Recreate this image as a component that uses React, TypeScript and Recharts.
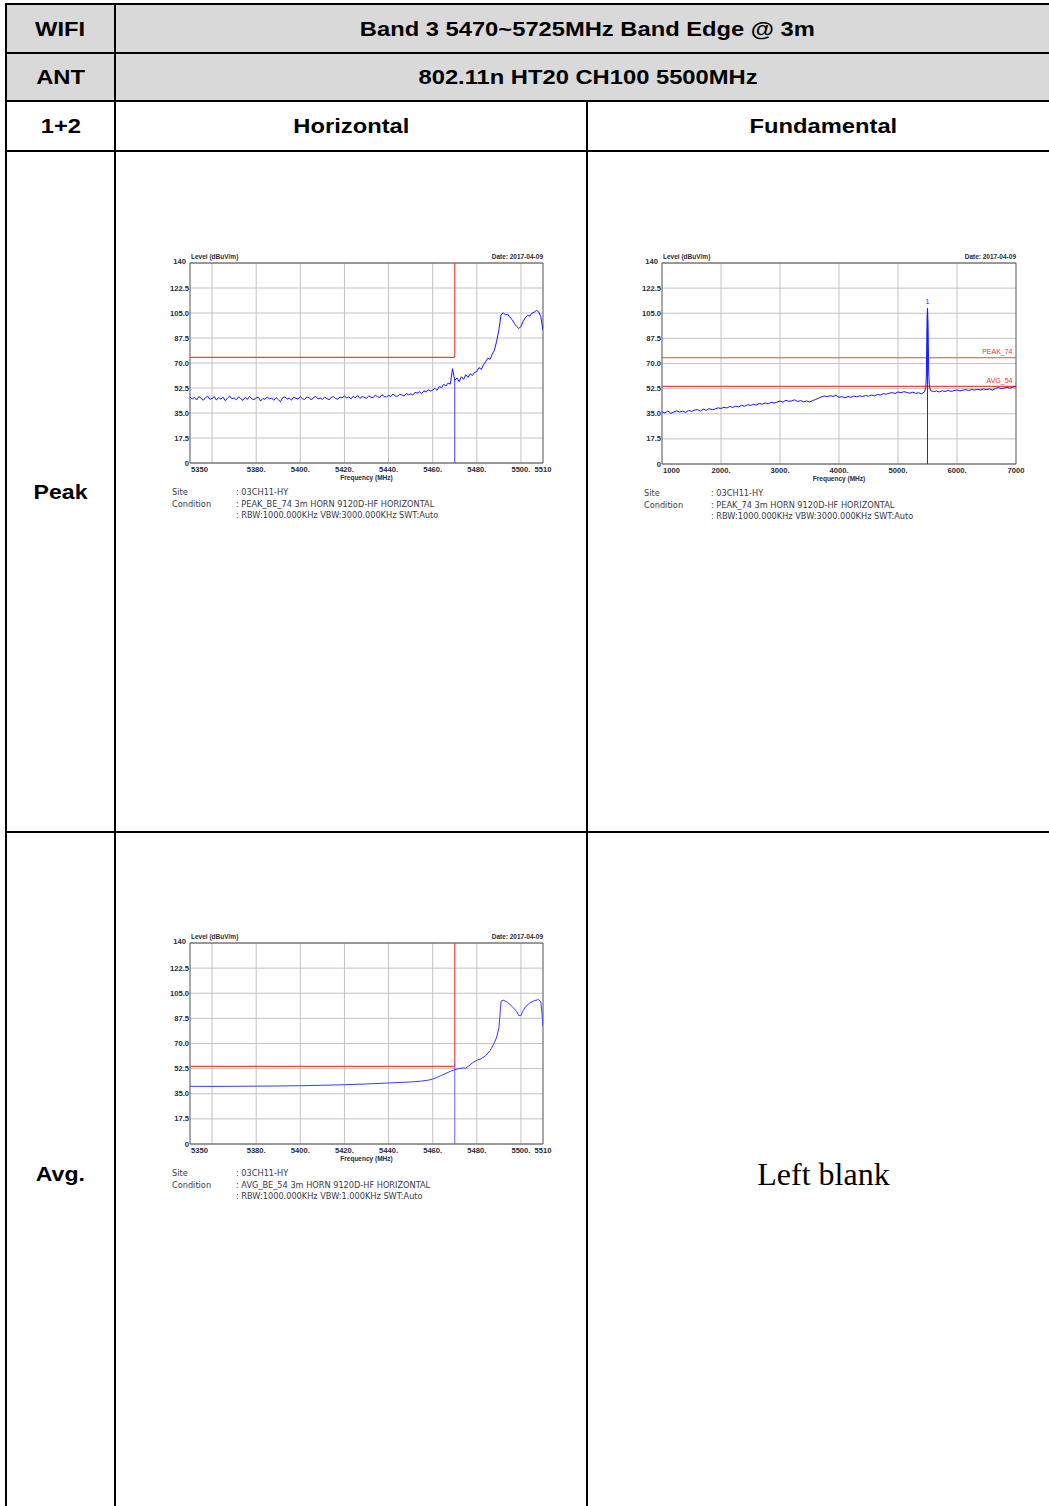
import React from "react";
import {
  LineChart,
  Line,
  XAxis,
  YAxis,
  CartesianGrid,
  ReferenceLine,
  ReferenceArea,
  ReferenceDot,
} from "recharts";

// ---- shared axis setup ----
const Y_TICKS = [0, 17.5, 35, 52.5, 70, 87.5, 105, 122.5, 140];
const Y_LABELS = ["0", "17.5", "35.0", "52.5", "70.0", "87.5", "105.0", "122.5", "140"];

// ---- band edge charts (5350 - 5510 MHz) ----
const EDGE_TICKS = [5350, 5380, 5400, 5420, 5440, 5460, 5480, 5500, 5510];
const EDGE_LABELS = ["5350", "5380.", "5400.", "5420.", "5440.", "5460.", "5480.", "5500.", "5510"];
const EDGE_GRID = [5360, 5380, 5400, 5420, 5440, 5460, 5480, 5500];

// peak trace, one sample per MHz from 5350
const PEAK_LEVEL = [
  46.2, 44.8, 45.9, 44.1, 46.5, 45.3, 43.9, 45.7, 46.8, 44.6,
  45.2, 46.4, 44.0, 45.8, 44.7, 46.1, 43.6, 45.4, 46.9, 44.9,
  45.6, 44.2, 46.3, 45.0, 43.8, 45.9, 44.5, 46.6, 45.1, 44.3,
  45.7, 46.0, 43.4, 45.2, 44.6, 46.2, 44.9, 45.5, 43.9, 45.8,
  44.4, 42.9, 45.6, 46.3, 44.7, 45.4, 44.0, 46.1, 45.3, 44.8,
  46.4, 45.0, 44.5, 46.2, 45.7, 44.1, 45.9, 46.6, 44.9, 45.4,
  44.6, 46.0, 45.2, 44.3, 45.8, 46.5, 45.0, 44.7, 46.2, 45.5,
  47.1, 45.4, 46.3, 44.9, 46.8, 45.6, 47.3, 45.2, 46.5, 46.0,
  45.3, 47.0, 46.1, 45.7, 47.5, 46.4, 45.8, 47.8, 46.6, 46.2,
  47.4, 46.5, 48.3, 47.0, 46.6, 48.1, 47.7, 46.9, 48.6, 47.8,
  48.4, 47.6, 49.5, 48.9, 49.9, 48.6, 50.5, 49.7, 51.2, 50.4,
  51.0, 52.3, 50.8, 53.6, 52.7, 55.1, 53.9, 56.0, 55.2, 66.0,
  57.8, 59.5, 56.9, 60.4, 58.6, 61.8, 59.9, 62.5, 61.2, 63.4,
  64.1, 66.8, 65.5, 68.7, 70.9, 73.4, 72.6, 76.1, 79.0, 85.3,
  93.2, 103.8, 105.2, 103.6, 104.1, 101.9, 100.4, 97.8, 95.6, 94.2,
  95.5, 99.1, 101.7, 103.4, 102.8, 104.9, 105.6, 106.8, 105.9, 102.5,
  93.0,
];
const PEAK_FREQ = PEAK_LEVEL.map((_, i) => 5350 + i);

// average trace
const AVG_FREQ = [
  5350, 5360, 5370, 5380, 5390, 5400, 5410, 5420, 5430, 5440, 5450, 5455, 5458,
  5460, 5462, 5464, 5466, 5468, 5470, 5472, 5474, 5475, 5476, 5478, 5480, 5482,
  5484, 5486, 5488, 5489, 5490, 5490.5, 5491, 5492, 5494, 5496, 5498, 5499, 5500,
  5501, 5502, 5504, 5506, 5508, 5509, 5509.5, 5510,
];
const AVG_LEVEL = [
  40.2, 40.1, 40.2, 40.3, 40.4, 40.6, 40.9, 41.3, 41.8, 42.5, 43.2, 43.8, 44.5,
  45.2, 46.4, 47.8, 49.2, 50.6, 51.8, 52.6, 53.0, 52.8, 54.0, 56.5, 58.3, 59.4,
  61.5, 65.0, 70.5, 74.5, 80.5, 90.0, 99.5, 100.2, 98.6, 95.8, 92.4, 89.5, 89.6,
  92.8, 95.5, 98.2, 99.8, 100.6, 99.0, 92.0, 82.0,
];

// ---- fundamental chart (1 - 7 GHz) ----
const FUND_TICKS = [1000, 2000, 3000, 4000, 5000, 6000, 7000];
const FUND_LABELS = ["1000", "2000.", "3000.", "4000.", "5000.", "6000.", "7000"];
const FUND_GRID = [2000, 3000, 4000, 5000, 6000];

const steps = (from: number, to: number, step: number) =>
  Array.from({ length: Math.round((to - from) / step) + 1 }, (_, i) => from + i * step);

const FUND_FREQ = [
  ...steps(1000, 5450, 50),
  5470, 5480, 5490, 5495, 5500, 5505, 5510, 5520, 5530,
  ...steps(5550, 7000, 50),
];
const FUND_LEVEL = [
  36.4, 35.6, 36.9, 35.3, 36.2, 37.0, 36.1, 36.8, 35.9, 37.3,
  36.6, 37.5, 37.9, 36.9, 38.2, 37.4, 38.6, 37.8, 38.3, 39.1,
  38.7, 39.5, 39.0, 40.1, 39.4, 40.3, 39.8, 40.9, 40.2, 41.3,
  40.8, 41.6, 41.0, 42.2, 41.7, 42.5, 41.9, 43.0, 42.4, 43.2,
  43.8, 43.1, 44.4, 43.6, 44.0, 44.7, 43.5, 44.2, 43.3, 43.9,
  43.2, 44.1, 44.9, 45.8, 46.6, 47.4, 46.9, 47.6, 47.1, 47.8,
  46.4, 46.9, 46.1, 47.0, 46.5, 47.3, 46.8, 47.5, 47.0, 47.7,
  47.2, 48.0, 47.5, 48.4, 48.1, 49.0, 48.6, 49.3, 49.7, 49.1,
  50.2, 49.6, 50.4, 49.8, 49.3, 50.0, 49.2, 49.6, 48.9, 50.3,
  53.5, 60.0, 95.0, 104.0, 108.5, 103.0, 97.0, 64.0, 55.0,
  51.2, 50.4, 50.9, 50.2, 51.0, 50.5, 51.3, 50.6, 51.1,
  51.6, 50.9, 51.4, 51.8, 51.2, 51.9, 51.5, 52.0, 51.6, 52.2,
  51.8, 52.3, 51.5, 52.6, 53.3, 52.5, 52.9, 53.4, 52.8, 53.6,
  53.9,
];

const FONT = "'Liberation Sans', Arial, sans-serif";
const SMALL_FONT = "'DejaVu Sans', Verdana, sans-serif";

type Seg = [number, number, number, number];

type SpectrumProps = {
  left: number;
  top: number;
  width: number;
  height: number;
  freq: number[];
  level: number[];
  xDomain: [number, number];
  xTicks: number[];
  xLabels: string[];
  gridX: number[];
  limits: Seg[];
  limitTags?: { y: number; text: string }[];
  marker: Seg;
  markerTag?: { x: number; y: number };
  traceColor: string;
  markerColor: string;
  footer: string[];
  colonLeft: number;
};

const M = { top: 13, right: 17, left: 0, bottom: 3 };
const Y_AXIS_W = 30;
const X_AXIS_H = 24;

function Spectrum(p: SpectrumProps) {
  const data = p.freq.map((f, i) => ({ f, v: p.level[i] }));
  const plotLeft = M.left + Y_AXIS_W;
  const plotTop = M.top;
  const plotW = p.width - plotLeft - M.right;
  const plotBottom = p.height - M.bottom - X_AXIS_H;

  const xTick = (t: any) => {
    const i = p.xTicks.indexOf(t.payload.value);
    const first = i === 0;
    return (
      <text
        x={t.x + (first ? 1 : 0)}
        y={t.y}
        dy={8.5}
        textAnchor={first ? "start" : "middle"}
        fontSize={7.6}
        fontWeight="bold"
        fontFamily={FONT}
        fill="#2a2a3a"
      >
        {p.xLabels[i]}
      </text>
    );
  };
  const yTick = (t: any) => {
    const i = Y_TICKS.indexOf(t.payload.value);
    const topTick = i === Y_TICKS.length - 1;
    return (
      <text
        x={t.x - (topTick ? 3 : 0)}
        y={t.y}
        dy={topTick ? 1 : 2.6}
        textAnchor="end"
        fontSize={7.6}
        fontWeight="bold"
        fontFamily={FONT}
        fill="#2a2a3a"
      >
        {Y_LABELS[i]}
      </text>
    );
  };

  const small: React.CSSProperties = {
    position: "absolute",
    fontFamily: FONT,
    fontWeight: "bold",
    fontSize: 6.5,
    lineHeight: "8px",
    color: "#2a2a3a",
    whiteSpace: "nowrap",
  };
  const foot: React.CSSProperties = {
    position: "absolute",
    fontFamily: SMALL_FONT,
    fontSize: 8.2,
    lineHeight: "10px",
    color: "#3a3a48",
    whiteSpace: "nowrap",
  };

  return (
    <div style={{ position: "absolute", left: p.left, top: p.top, width: p.width, height: p.height + 60 }}>
      <LineChart width={p.width} height={p.height} data={data} margin={M}>
        <CartesianGrid stroke="#c2c2c2" horizontalValues={Y_TICKS} verticalValues={p.gridX} />
        <XAxis
          dataKey="f"
          type="number"
          domain={p.xDomain}
          ticks={p.xTicks}
          interval={0}
          allowDataOverflow
          height={X_AXIS_H}
          tickSize={0}
          tickMargin={0}
          axisLine={false}
          tickLine={false}
          tick={xTick}
        />
        <YAxis
          type="number"
          domain={[0, 140]}
          ticks={Y_TICKS}
          interval={0}
          allowDataOverflow
          width={Y_AXIS_W}
          tickSize={0}
          tickMargin={1}
          axisLine={false}
          tickLine={false}
          tick={yTick}
        />
        <ReferenceArea
          x1={p.xDomain[0]}
          x2={p.xDomain[1]}
          y1={0}
          y2={140}
          fill="none"
          fillOpacity={0}
          stroke="#505050"
          strokeWidth={1}
        />
        {p.limits.map((s, i) => (
          <ReferenceLine
            key={"lim" + i}
            segment={[{ x: s[0], y: s[1] }, { x: s[2], y: s[3] }]}
            stroke="#ee4444"
            strokeWidth={1.2}
          />
        ))}
        {(p.limitTags || []).map((t) => (
          <ReferenceLine
            key={t.text}
            y={t.y}
            stroke="none"
            label={{
              value: t.text,
              position: "insideBottomRight",
              offset: 3.5,
              fill: "#ee3030",
              fontSize: 7,
              fontFamily: FONT,
            }}
          />
        ))}
        <ReferenceLine
          segment={[{ x: p.marker[0], y: p.marker[1] }, { x: p.marker[2], y: p.marker[3] }]}
          stroke={p.markerColor}
          strokeWidth={1}
        />
        {p.markerTag && (
          <ReferenceDot
            x={p.markerTag.x}
            y={p.markerTag.y}
            r={0}
            fill="none"
            stroke="none"
            label={{ value: "1", position: "center", fill: "#2a2aff", fontSize: 7, fontFamily: FONT }}
          />
        )}
        <Line
          dataKey="v"
          type="linear"
          stroke={p.traceColor}
          strokeWidth={1}
          dot={false}
          isAnimationActive={false}
        />
      </LineChart>
      <div style={{ ...small, left: plotLeft + 1, top: plotTop - 10 }}>Level (dBuV/m)</div>
      <div style={{ ...small, right: M.right, top: plotTop - 10 }}>Date: 2017-04-09</div>
      <div style={{ ...small, left: plotLeft, width: plotW, textAlign: "center", top: plotBottom + 11 }}>
        Frequency (MHz)
      </div>
      <div style={{ ...foot, left: 12, top: plotBottom + 24 }}>Site</div>
      <div style={{ ...foot, left: 12, top: plotBottom + 35.5 }}>Condition</div>
      {p.footer.map((line, i) => (
        <div key={i} style={{ ...foot, left: p.colonLeft, top: plotBottom + 24 + i * 11.5 }}>
          {line}
        </div>
      ))}
    </div>
  );
}

function Cell({ x1, x2, y1, y2, children, style, stretch = 1.13 }: any) {
  return (
    <div
      style={{
        position: "absolute",
        left: x1,
        top: y1,
        width: x2 - x1,
        height: y2 - y1,
        display: "flex",
        alignItems: "center",
        justifyContent: "center",
        fontFamily: FONT,
        fontWeight: "bold",
        fontSize: 21,
        color: "#000",
        whiteSpace: "nowrap",
        ...style,
      }}
    >
      <span style={{ display: "inline-block", transform: `scaleX(${stretch})` }}>{children}</span>
    </div>
  );
}

const Bar = ({ x, y, w, h }: { x: number; y: number; w: number; h: number }) => (
  <div style={{ position: "absolute", left: x, top: y, width: w, height: h, background: "#000" }} />
);

export default function App() {
  return (
    <div
      style={{
        position: "absolute",
        left: 0,
        top: 0,
        width: 1049,
        height: 1506,
        overflow: "hidden",
        background: "#fff",
      }}
    >
      {/* grey header rows */}
      <div style={{ position: "absolute", left: 7, top: 5, width: 1060, height: 95, background: "#d9d9d9" }} />

      {/* table rules */}
      <Bar x={5} y={3} w={1060} h={2} />
      <Bar x={5} y={52} w={1060} h={2} />
      <Bar x={5} y={100} w={1060} h={2} />
      <Bar x={5} y={150} w={1060} h={2} />
      <Bar x={5} y={831} w={1060} h={2} />
      <Bar x={5} y={3} w={2} h={1520} />
      <Bar x={114} y={3} w={2} h={1520} />
      <Bar x={586} y={101} w={2} h={1420} />

      <Cell x1={7} x2={114} y1={5} y2={52}>WIFI</Cell>
      <Cell x1={116} x2={1059} y1={5} y2={52}>Band 3 5470~5725MHz Band Edge @ 3m</Cell>
      <Cell x1={7} x2={114} y1={54} y2={100}>ANT</Cell>
      <Cell x1={116} x2={1059} y1={54} y2={100}>802.11n HT20 CH100 5500MHz</Cell>
      <Cell x1={7} x2={114} y1={102} y2={150}>1+2</Cell>
      <Cell x1={116} x2={586} y1={102} y2={150}>Horizontal</Cell>
      <Cell x1={588} x2={1059} y1={102} y2={150}>Fundamental</Cell>
      <Cell x1={7} x2={114} y1={152} y2={831} stretch={1.1}>Peak</Cell>
      <Cell x1={7} x2={114} y1={833} y2={1515} stretch={1.1}>Avg.</Cell>
      <Cell
        x1={588}
        x2={1059}
        y1={833}
        y2={1515}
        stretch={1}
        style={{ fontFamily: "'Liberation Serif', 'Times New Roman', serif", fontWeight: "normal", fontSize: 32 }}
      >
        Left blank
      </Cell>

      <Spectrum
        left={160}
        top={250}
        width={400}
        height={240}
        freq={PEAK_FREQ}
        level={PEAK_LEVEL}
        xDomain={[5350, 5510]}
        xTicks={EDGE_TICKS}
        xLabels={EDGE_LABELS}
        gridX={EDGE_GRID}
        limits={[
          [5350, 74, 5470, 74],
          [5470, 74, 5470, 140],
        ]}
        marker={[5470, 0, 5470, 58]}
        traceColor="#1515ff"
        markerColor="#3a3aff"
        footer={[
          ": 03CH11-HY",
          ": PEAK_BE_74 3m HORN 9120D-HF HORIZONTAL",
          ": RBW:1000.000KHz VBW:3000.000KHz SWT:Auto",
        ]}
        colonLeft={76}
      />

      <Spectrum
        left={632}
        top={250}
        width={401}
        height={241}
        freq={FUND_FREQ}
        level={FUND_LEVEL}
        xDomain={[1000, 7000]}
        xTicks={FUND_TICKS}
        xLabels={FUND_LABELS}
        gridX={FUND_GRID}
        limits={[
          [1000, 74, 7000, 74],
          [1000, 54, 7000, 54],
        ]}
        limitTags={[
          { y: 74, text: "PEAK_74" },
          { y: 54, text: "AVG_54" },
        ]}
        marker={[5500, 0, 5500, 107]}
        markerTag={{ x: 5500, y: 113 }}
        traceColor="#1515ff"
        markerColor="#2020ff"
        footer={[
          ": 03CH11-HY",
          ": PEAK_74 3m HORN 9120D-HF HORIZONTAL",
          ": RBW:1000.000KHz VBW:3000.000KHz SWT:Auto",
        ]}
        colonLeft={79}
      />

      <Spectrum
        left={160}
        top={930}
        width={400}
        height={241}
        freq={AVG_FREQ}
        level={AVG_LEVEL}
        xDomain={[5350, 5510]}
        xTicks={EDGE_TICKS}
        xLabels={EDGE_LABELS}
        gridX={EDGE_GRID}
        limits={[
          [5350, 54, 5470, 54],
          [5470, 54, 5470, 140],
        ]}
        marker={[5470, 0, 5470, 56]}
        traceColor="#3a3aff"
        markerColor="#6060ff"
        footer={[
          ": 03CH11-HY",
          ": AVG_BE_54 3m HORN 9120D-HF HORIZONTAL",
          ": RBW:1000.000KHz VBW:1.000KHz SWT:Auto",
        ]}
        colonLeft={76}
      />
    </div>
  );
}
